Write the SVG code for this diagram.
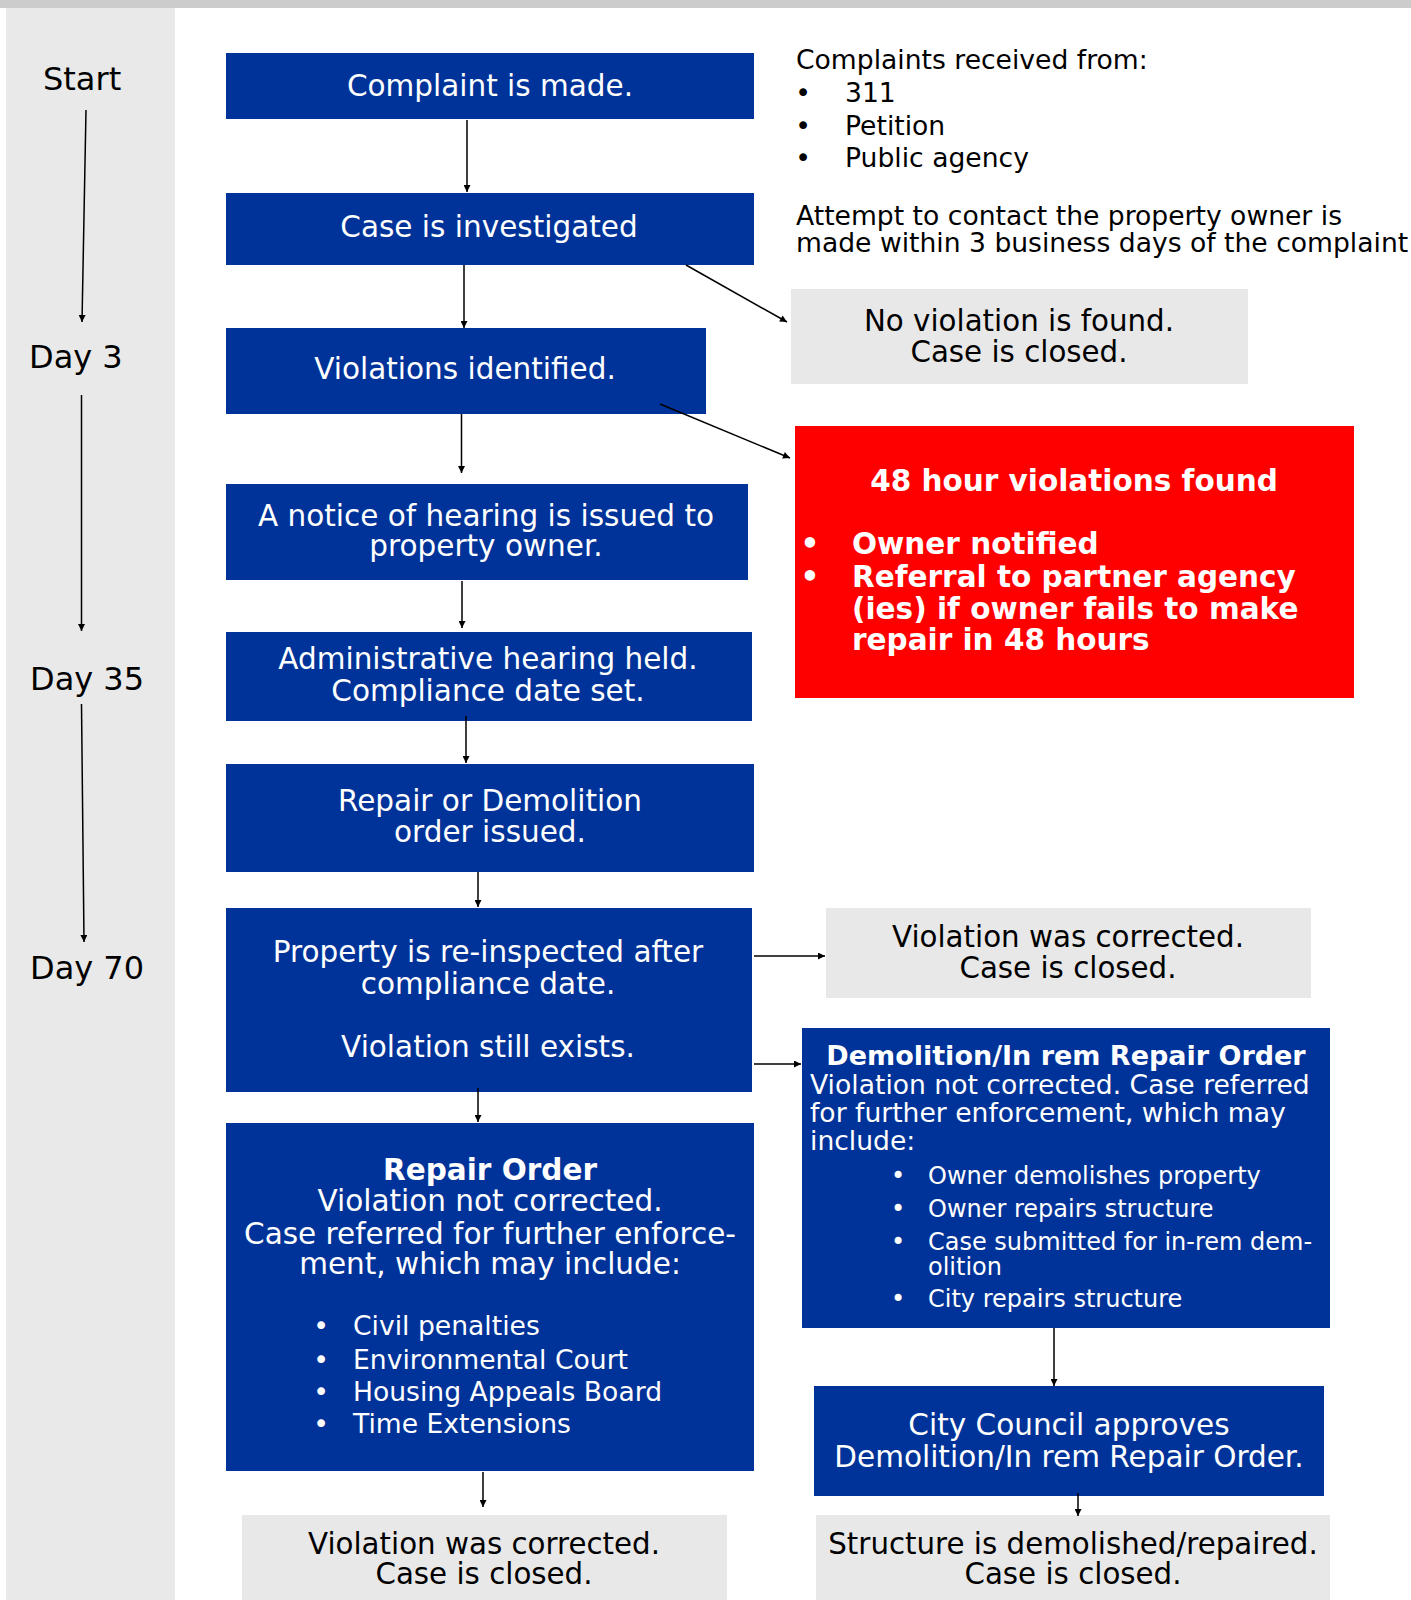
<svg xmlns="http://www.w3.org/2000/svg" width="1411" height="1600" viewBox="0 0 1411 1600">
<defs>
<marker id="ah" viewBox="0 0 10 10" refX="10" refY="5" markerWidth="9" markerHeight="7" markerUnits="userSpaceOnUse" orient="auto"><path d="M0,0 L10,5 L0,10 z" fill="#000"/></marker>
<style>
text{font-family:"DejaVu Sans","Verdana",sans-serif}
.blue{fill:#003399}
.gray{fill:#e8e8e8}
.red{fill:#ff0000}
.w{fill:#ffffff;font-size:29.5px}
.wb{fill:#ffffff;font-size:29.5px;font-weight:bold}
.k{fill:#000000;font-size:29.3px}
.ks{fill:#000000;font-size:26.6px}
.ws{fill:#ffffff;font-size:26.6px}
.wxs{fill:#ffffff;font-size:24px}
.tl{fill:#000000;font-size:32px}
.c{text-anchor:middle}
.conn line{stroke:#000;stroke-width:1.5;marker-end:url(#ah)}
</style>
</defs>
<rect x="0" y="0" width="1411" height="1600" fill="#ffffff"/>
<rect x="0" y="0" width="1411" height="8" fill="#cccccc"/>
<rect x="6" y="8" width="169" height="1592" fill="#e9e9e9"/>

<g id="timeline">
<text class="tl" x="43" y="90">Start</text>
<text class="tl" x="29" y="368">Day 3</text>
<text class="tl" x="30" y="690">Day 35</text>
<text class="tl" x="30" y="979">Day 70</text>
</g>

<g id="n1"><rect class="blue" x="226" y="53" width="528" height="66"/><text class="w c" x="490" y="96">Complaint is made.</text></g>
<g id="n2"><rect class="blue" x="226" y="193" width="528" height="72"/><text class="w c" x="489" y="237">Case is investigated</text></g>
<g id="n3"><rect class="blue" x="226" y="328" width="480" height="86"/><text class="w c" x="465" y="379">Violations identified.</text></g>
<g id="n4"><rect class="blue" x="226" y="484" width="522" height="96"/><text class="w c" x="486" y="526">A notice of hearing is issued to</text><text class="w c" x="486" y="556">property owner.</text></g>
<g id="n5"><rect class="blue" x="226" y="632" width="526" height="89"/><text class="w c" x="488" y="669">Administrative hearing held.</text><text class="w c" x="488" y="701">Compliance date set.</text></g>
<g id="n6"><rect class="blue" x="226" y="764" width="528" height="108"/><text class="w c" x="490" y="811">Repair or Demolition</text><text class="w c" x="490" y="842">order issued.</text></g>
<g id="n7"><rect class="blue" x="226" y="908" width="526" height="184"/><text class="w c" x="488" y="962">Property is re-inspected after</text><text class="w c" x="488" y="994">compliance date.</text><text class="w c" x="488" y="1057">Violation still exists.</text></g>
<g id="n8"><rect class="blue" x="226" y="1123" width="528" height="348"/>
<text class="wb c" x="490" y="1180">Repair Order</text>
<text class="w c" x="490" y="1211">Violation not corrected.</text>
<text class="w c" x="490" y="1244">Case referred for further enforce-</text>
<text class="w c" x="490" y="1274">ment, which may include:</text>
<text class="ws c" x="321" y="1335">•</text><text class="ws" x="353" y="1335">Civil penalties</text>
<text class="ws c" x="321" y="1369">•</text><text class="ws" x="353" y="1369">Environmental Court</text>
<text class="ws c" x="321" y="1401">•</text><text class="ws" x="353" y="1401">Housing Appeals Board</text>
<text class="ws c" x="321" y="1433">•</text><text class="ws" x="353" y="1433">Time Extensions</text>
</g>
<g id="n9"><rect class="gray" x="242" y="1515" width="485" height="85"/><text class="k c" x="484" y="1554">Violation was corrected.</text><text class="k c" x="484" y="1584">Case is closed.</text></g>

<g id="note1">
<text class="ks" x="796" y="69">Complaints received from:</text>
<text class="ks c" x="803" y="102">•</text><text class="ks" x="845" y="102">311</text>
<text class="ks c" x="803" y="135">•</text><text class="ks" x="845" y="135">Petition</text>
<text class="ks c" x="803" y="167">•</text><text class="ks" x="845" y="167">Public agency</text>
</g>
<g id="note2">
<text class="ks" x="796" y="225">Attempt to contact the property owner is</text>
<text class="ks" x="796" y="252">made within 3 business days of the complaint</text>
</g>
<g id="n10"><rect class="gray" x="791" y="289" width="457" height="95"/><text class="k c" x="1019" y="331">No violation is found.</text><text class="k c" x="1019" y="362">Case is closed.</text></g>
<g id="n11"><rect class="red" x="795" y="426" width="559" height="272"/>
<text class="wb c" x="1074" y="491">48 hour violations found</text>
<text class="wb c" x="810" y="554">•</text><text class="wb" x="852" y="554">Owner notified</text>
<text class="wb c" x="810" y="587">•</text><text class="wb" x="852" y="587">Referral to partner agency</text>
<text class="wb" x="852" y="619">(ies) if owner fails to make</text>
<text class="wb" x="852" y="650">repair in 48 hours</text>
</g>
<g id="n12"><rect class="gray" x="826" y="908" width="485" height="90"/><text class="k c" x="1068" y="947">Violation was corrected.</text><text class="k c" x="1068" y="978">Case is closed.</text></g>
<g id="n13"><rect class="blue" x="802" y="1028" width="528" height="300"/>
<text class="w c" style="font-size:27px;font-weight:bold" x="1066" y="1065">Demolition/In rem Repair Order</text>
<text class="ws" x="810" y="1094">Violation not corrected. Case referred</text>
<text class="ws" x="810" y="1122">for further enforcement, which may</text>
<text class="ws" x="810" y="1150">include:</text>
<text class="wxs c" x="898" y="1184">•</text><text class="wxs" x="928" y="1184">Owner demolishes property</text>
<text class="wxs c" x="898" y="1217">•</text><text class="wxs" x="928" y="1217">Owner repairs structure</text>
<text class="wxs c" x="898" y="1250">•</text><text class="wxs" x="928" y="1250">Case submitted for in-rem dem-</text>
<text class="wxs" x="928" y="1275">olition</text>
<text class="wxs c" x="898" y="1307">•</text><text class="wxs" x="928" y="1307">City repairs structure</text>
</g>
<g id="n14"><rect class="blue" x="814" y="1386" width="510" height="110"/><text class="w c" x="1069" y="1435">City Council approves</text><text class="w c" x="1069" y="1467">Demolition/In rem Repair Order.</text></g>
<g id="n15"><rect class="gray" x="816" y="1515" width="514" height="85"/><text class="k c" x="1073" y="1554">Structure is demolished/repaired.</text><text class="k c" x="1073" y="1584">Case is closed.</text></g>

<g id="connectors" class="conn">
<line x1="86" y1="110" x2="82" y2="322"/>
<line x1="81.5" y1="395" x2="81.5" y2="631"/>
<line x1="81.5" y1="704" x2="84" y2="942"/>
<line x1="467" y1="120" x2="467" y2="192"/>
<line x1="464" y1="265" x2="464" y2="328"/>
<line x1="461.5" y1="414" x2="461.5" y2="473"/>
<line x1="462" y1="581" x2="462" y2="628"/>
<line x1="466" y1="716" x2="466" y2="763"/>
<line x1="478" y1="872" x2="478" y2="907"/>
<line x1="478" y1="1088" x2="478" y2="1122"/>
<line x1="483" y1="1472" x2="483" y2="1507"/>
<line x1="686" y1="265" x2="787" y2="322"/>
<line x1="660" y1="404" x2="790" y2="458"/>
<line x1="754" y1="956" x2="825" y2="956"/>
<line x1="754" y1="1064" x2="801" y2="1064"/>
<line x1="1054" y1="1328" x2="1054" y2="1386"/>
<line x1="1078" y1="1493" x2="1078" y2="1516"/>
</g>
</svg>
